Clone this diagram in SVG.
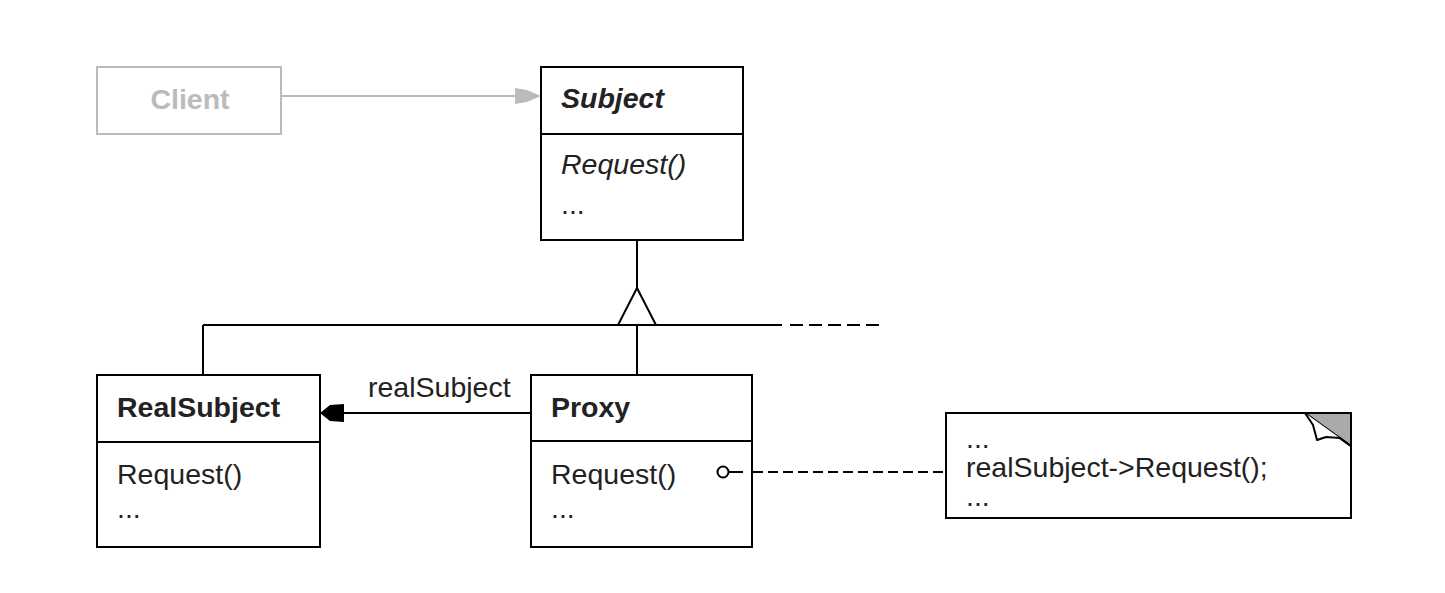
<svg xmlns="http://www.w3.org/2000/svg" width="1445" height="593" viewBox="0 0 1445 593">
<style>
.box{fill:#fff;stroke:#000;stroke-width:2}
.gbox{fill:#fff;stroke:#bbb;stroke-width:2}
.ln{fill:none;stroke:#000;stroke-width:2}
.t{font-family:"Liberation Sans",Arial,sans-serif;font-size:28.5px;fill:#222}
.b{font-weight:bold}
.i{font-style:italic}
</style>
<rect width="1445" height="593" fill="#fff"/>
<g id="connectors">
  <line x1="281" y1="96" x2="516" y2="96" stroke="#bbb" stroke-width="2"/>
  <polygon points="515,88 527,90 541,96 527,102 515,104" fill="#bbb"/>
  <line x1="637" y1="240" x2="637" y2="288" class="ln"/>
  <polygon points="637,288 618,325 656,325" fill="#fff" stroke="#000" stroke-width="2"/>
  <line x1="203" y1="325" x2="782" y2="325" class="ln"/>
  <line x1="790" y1="325" x2="880" y2="325" class="ln" stroke-dasharray="13,6"/>
  <line x1="203" y1="325" x2="203" y2="375" class="ln"/>
  <line x1="637" y1="325" x2="637" y2="375" class="ln"/>
  <line x1="343" y1="413" x2="531" y2="413" class="ln"/>
  <polygon points="320,413 330,405 344,404 344,422 330,421" fill="#000"/>
  <text x="368" y="397" class="t">realSubject</text>
</g>
<g id="client">
  <rect x="97" y="67" width="184" height="67" class="gbox"/>
  <text x="190" y="109" class="t b" text-anchor="middle" style="fill:#bbb">Client</text>
</g>
<g id="subject">
  <rect x="541" y="67" width="202" height="173" class="box"/>
  <line x1="541" y1="134" x2="743" y2="134" class="ln"/>
  <text x="561" y="108" class="t b i">Subject</text>
  <text x="561" y="174" class="t i">Request()</text>
  <text x="561" y="214" class="t">...</text>
</g>
<g id="realsubject">
  <rect x="97" y="375" width="223" height="172" class="box"/>
  <line x1="97" y1="442" x2="320" y2="442" class="ln"/>
  <text x="117" y="417" class="t b">RealSubject</text>
  <text x="117" y="484" class="t">Request()</text>
  <text x="117" y="518" class="t">...</text>
</g>
<g id="proxy">
  <rect x="531" y="375" width="221" height="172" class="box"/>
  <line x1="531" y1="441" x2="752" y2="441" class="ln"/>
  <text x="551" y="417" class="t b">Proxy</text>
  <text x="551" y="484" class="t">Request()</text>
  <text x="551" y="518" class="t">...</text>
  <circle cx="723" cy="472" r="5.5" fill="#fff" stroke="#000" stroke-width="2"/>
  <line x1="729" y1="472" x2="743" y2="472" class="ln"/>
</g>
<g id="note-link">
  <line x1="753" y1="472" x2="946" y2="472" class="ln" stroke-dasharray="10,5"/>
</g>
<g id="note">
  <path d="M946,413 H1305 L1351,446 V518 H946 Z" class="box"/>
  <polygon points="1305,413 1351,413 1351,446" fill="#aaa" stroke="#000" stroke-width="2"/>
  <path d="M1305,413 L1313,425 L1317,440 L1326,437 L1340,438 L1351,446" fill="#fff" stroke="#000" stroke-width="2" stroke-linejoin="round"/>
  <text x="966" y="448" class="t">...</text>
  <text x="966" y="477" class="t">realSubject-&gt;Request();</text>
  <text x="966" y="506" class="t">...</text>
</g>
</svg>
